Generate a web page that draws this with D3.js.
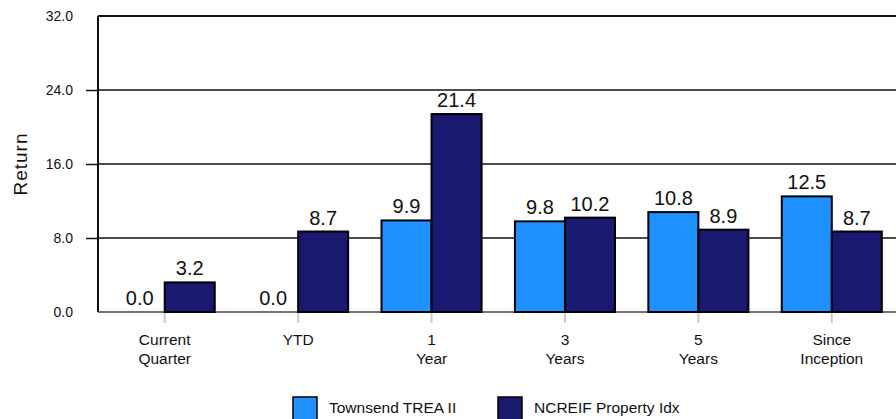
<!DOCTYPE html>
<html>
<head>
<meta charset="utf-8">
<script src="https://cdn.jsdelivr.net/npm/d3@7"></script>
<style>
  html, body { margin: 0; padding: 0; background: #fff; }
  svg { display: block; font-family: "Liberation Sans", Arial, sans-serif; }
</style>
</head>
<body>
<svg id="chart" width="896" height="419"></svg>
<script>
const categories = [["Current", "Quarter"], ["YTD"], ["1", "Year"], ["3", "Years"], ["5", "Years"], ["Since", "Inception"]];
const seriesNames = ["Townsend TREA II", "NCREIF Property Idx"];
const townsend = [0.0, 0.0, 9.9, 9.8, 10.8, 12.5];
const ncreif = [3.2, 8.7, 21.4, 10.2, 8.9, 8.7];
const yTicks = [0, 8, 16, 24, 32];
const colors = ["#1E90FF", "#191970"];

(function () {
const svg = d3.select("#chart");
const pLeft = 98, pRight = 898.5, pTop = 16, pBottom = 312;

const keys = categories.map((c, i) => i);
const x0 = d3.scaleBand().domain(keys).range([pLeft, pRight]).padding(0);
const x1 = d3.scaleBand().domain([0, 1]).range([x0.bandwidth() * 0.125, x0.bandwidth() * 0.875]).padding(0);
const y = d3.scaleLinear().domain([0, 32]).range([pBottom, pTop]);

// gridlines
svg.append("g").selectAll("line").data(yTicks.filter(d => d > 0)).join("line")
  .attr("x1", pLeft).attr("x2", 896)
  .attr("y1", d => y(d)).attr("y2", d => y(d))
  .attr("stroke", "#111").attr("stroke-width", d => d === 32 ? 2 : 1.5);

// y axis
const yAxis = svg.append("g").attr("transform", `translate(${pLeft},0)`)
  .call(d3.axisLeft(y).tickValues(yTicks).tickFormat(d3.format(".1f")).tickSize(12).tickPadding(13));
yAxis.select(".domain").attr("stroke", "#111").attr("stroke-width", 2).attr("d", `M0,${pTop}V${pBottom}`);
yAxis.selectAll(".tick line").attr("stroke", "#111").attr("stroke-width", 1.5)
  .attr("x2", d => (d === 32 || d === 0) ? 0 : -12);
yAxis.selectAll(".tick text").attr("font-size", 14).attr("fill", "#111")
  .attr("font-family", "Liberation Sans, Arial, sans-serif");

// x axis ticks (grey)
svg.append("g").selectAll("line").data(keys).join("line")
  .attr("x1", d => x0(d) + x0.bandwidth() / 2).attr("x2", d => x0(d) + x0.bandwidth() / 2)
  .attr("y1", pBottom).attr("y2", pBottom + 11)
  .attr("stroke", "#ccc").attr("stroke-width", 2);

// baseline
svg.append("line").attr("x1", pLeft).attr("x2", 896).attr("y1", pBottom).attr("y2", pBottom)
  .attr("stroke", "#444").attr("stroke-width", 1.5);

// bars
const data = keys.map(i => ({ i, vals: [townsend[i], ncreif[i]] }));
const groups = svg.append("g").selectAll("g").data(data).join("g")
  .attr("transform", d => `translate(${x0(d.i)},0)`);
groups.selectAll("rect").data(d => d.vals.map((v, s) => ({ v, s })).filter(e => e.v > 0)).join("rect")
  .attr("x", d => x1(d.s)).attr("width", x1.bandwidth())
  .attr("y", d => y(d.v)).attr("height", d => y(0) - y(d.v))
  .attr("fill", d => colors[d.s]).attr("stroke", "#000").attr("stroke-width", 2);
groups.selectAll("text.val").data(d => d.vals.map((v, s) => ({ v, s }))).join("text")
  .attr("class", "val")
  .attr("x", d => x1(d.s) + x1.bandwidth() / 2)
  .attr("y", d => y(d.v) - 7)
  .attr("text-anchor", "middle").attr("font-size", 20).attr("fill", "#111")
  .text(d => d3.format(".1f")(d.v));

// category labels
const cl = svg.append("g").selectAll("text").data(keys).join("text")
  .attr("x", d => x0(d) + x0.bandwidth() / 2)
  .attr("y", 345).attr("text-anchor", "middle").attr("font-size", 15.5).attr("fill", "#111");
cl.selectAll("tspan").data(d => categories[d].map(t => ({ t, x: x0(d) + x0.bandwidth() / 2 }))).join("tspan")
  .attr("x", d => d.x).attr("dy", (d, i) => i === 0 ? 0 : 19).text(d => d.t);

// y axis title
svg.append("text").attr("transform", `translate(27,${(pTop + pBottom) / 2}) rotate(-90)`)
  .attr("text-anchor", "middle").attr("font-size", 19).attr("fill", "#111").attr("letter-spacing", 1)
  .text("Return");

// legend
const legendX = [293, 498];
const lg = svg.append("g").selectAll("g").data(seriesNames).join("g")
  .attr("transform", (d, i) => `translate(${legendX[i]},397)`);
lg.append("rect").attr("width", 24).attr("height", 24)
  .attr("fill", (d, i) => colors[i]).attr("stroke", "#000").attr("stroke-width", 1.5);
lg.append("text").attr("x", 36).attr("y", 16).attr("font-size", 15.5).attr("fill", "#111").text(d => d);
})();
</script>
</body>
</html>
